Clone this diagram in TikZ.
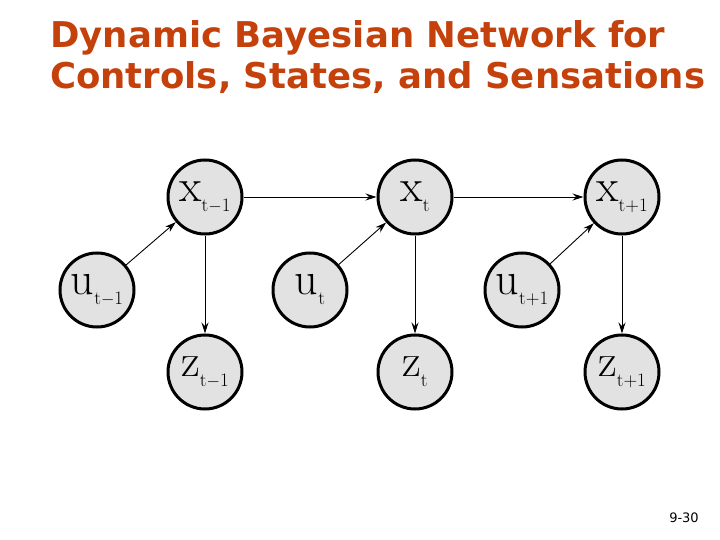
\documentclass[tikz,border=0pt]{standalone}
\usepackage{fontspec}
\newfontfamily\titlefont{DejaVu Sans}
\usetikzlibrary{arrows.meta}
\definecolor{ttl}{HTML}{C4410C}
\newcommand{\lbl}[2]{{\fontsize{46}{48}\selectfont #1}\raisebox{-10pt}{\fontsize{19}{20}\selectfont #2}}
\begin{document}
\begin{tikzpicture}[x=1pt,y=-1pt,
  st/.style={circle,draw=black,line width=3pt,fill={rgb,255:red,226;green,226;blue,226},minimum size=74pt,inner sep=0pt},
  ar/.style={-{Stealth[length=11pt,width=7pt]},line width=0.9pt}]
\useasboundingbox (0,0) rectangle (720,540);
\node[anchor=base west,text=ttl,font=\titlefont\bfseries\fontsize{35.5}{38}\selectfont,inner sep=0pt] (t1) at (50,48) {Dynamic Bayesian Network for};
\node[anchor=base west,text=ttl,font=\titlefont\bfseries\fontsize{35.5}{38}\selectfont,inner sep=0pt] (t2) at (50,89) {Controls, States, and Sensations};
\node[font=\titlefont\fontsize{13}{14}\selectfont] (pg) at (684,518) {9-30};
\foreach \n/\x/\s in {a/205/t$-$1,b/415/t,c/622/t+1}{
  \node[st] (x\n) at (\x,197) {\lbl{x}{\s}};
  \node[st] (z\n) at (\x,372) {\lbl{z}{\s}};
}
\node[st] (ua) at (97,290) {\lbl{u}{t$-$1}};
\node[st] (ub) at (310,290) {\lbl{u}{t}};
\node[st] (uc) at (522,290) {\lbl{u}{t+1}};
\draw[ar] (xa) -- (xb);
\draw[ar] (xb) -- (xc);
\foreach \n in {a,b,c}{
  \draw[ar] (u\n) -- (x\n);
  \draw[ar] (x\n) -- (z\n);
}
\end{tikzpicture}
\end{document}
